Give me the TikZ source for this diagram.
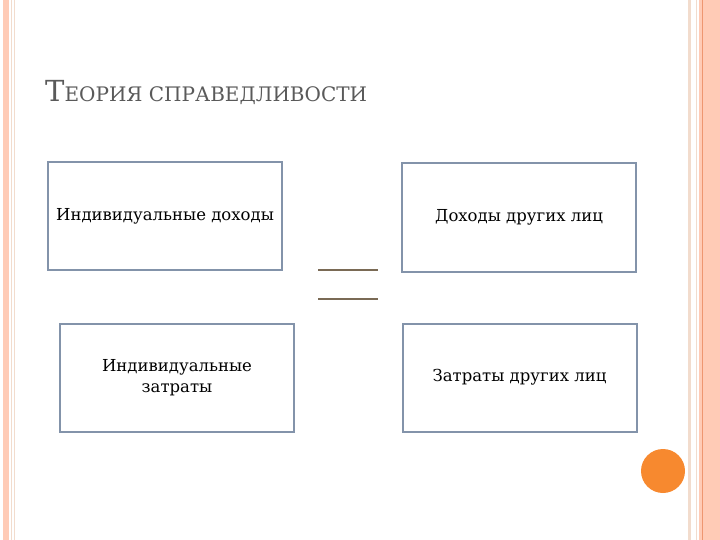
\documentclass[tikz,border=0pt]{standalone}
\usepackage{fontspec}
\setmainfont{DejaVu Serif}
\definecolor{stripepink}{HTML}{FFCBB6}
\definecolor{stripeline}{HTML}{F2DCCD}
\definecolor{stripedark}{HTML}{EE9670}
\definecolor{boxgray}{HTML}{8393AA}
\definecolor{titlegray}{HTML}{5A5A5A}
\definecolor{dotorange}{HTML}{F7892F}
\definecolor{barline}{HTML}{7A6A55}
\begin{document}
\begin{tikzpicture}[x=1pt,y=-1pt,
  box/.style={draw=boxgray, line width=2pt, fill=white, minimum width=234pt,
    minimum height=108pt, inner sep=0pt, align=center,
    font=\fontsize{16.5}{21}\selectfont},
  bar/.style={draw=barline, line width=1.2pt}]
\useasboundingbox (0,0) rectangle (720,540);

% side stripes
\fill[stripepink] (3,0) rectangle (9,540);
\draw[stripeline, line width=1pt] (11,0) -- (11,540);
\draw[stripeline, line width=1pt] (14,0) -- (14,540);
\draw[stripeline, line width=3pt] (689.5,0) -- (689.5,540);
\draw[stripeline, line width=1.5pt] (696.5,0) -- (696.5,540);
\fill[stripepink] (699,0) rectangle (720,540);
\draw[stripedark, line width=1pt] (702.5,0) -- (702.5,540);

% title
\node[anchor=base west, text=titlegray, inner sep=0pt] (title) at (45,102)
  {\fontsize{29}{29}\selectfont Т\fontsize{20}{20}\selectfont ЕОРИЯ СПРАВЕДЛИВОСТИ};

\node[box] (ownin) at (165,216) {Индивидуальные доходы};
\node[box] (otherin) at (519,217.5) {Доходы других лиц};
\node[box] (ownout) at (177,377.5) {Индивидуальные\\затраты};
\node[box] (otherout) at (519.5,377.5) {Затраты других лиц};

\coordinate (topa) at (318,270);
\coordinate (topb) at (378,270);
\coordinate (bota) at (318,299);
\coordinate (botb) at (378,299);
\draw[bar] (topa) -- (topb);
\draw[bar] (bota) -- (botb);

\fill[dotorange] (663,471) circle[radius=22];
\end{tikzpicture}
\end{document}
